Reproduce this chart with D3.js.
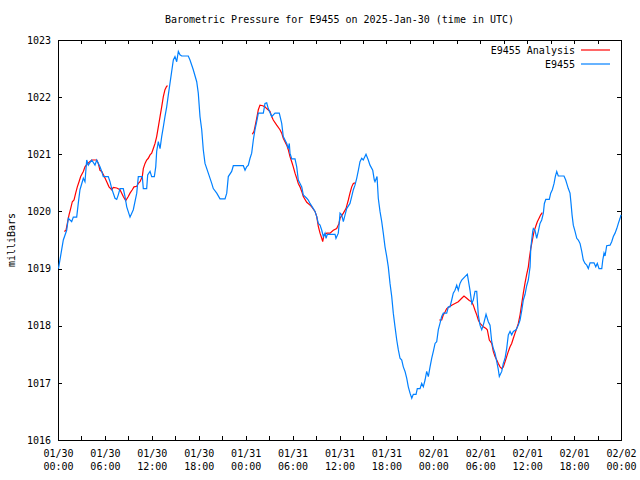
<!DOCTYPE html>
<html><head><meta charset="utf-8">
<script src="https://cdn.jsdelivr.net/npm/d3@7"></script>
<style>body{margin:0;background:#fff}svg{display:block}text{font-family:"DejaVu Sans Mono","Liberation Mono",monospace;font-size:10px;fill:#000}</style>
</head><body><svg id="c" width="640" height="480"></svg>
<script>
// hours since 2025-01-30 00:00 UTC
const obsHours = [0.06,0.47,0.68,1.11,1.32,1.75,1.96,2.39,2.60,2.81,3.24,3.45,3.67,3.88,4.31,4.73,4.95,5.37,5.59,5.79,6.43,6.65,6.87,7.29,7.51,7.71,7.93,8.35,8.57,8.79,9.21,9.63,10.07,10.27,10.78,10.91,11.34,11.47,11.77,11.98,12.32,12.50,12.62,12.83,13.05,13.26,13.47,13.68,13.90,14.11,14.32,14.54,14.75,14.96,15.18,15.39,15.60,15.82,16.66,16.88,17.30,17.74,17.94,18.16,18.38,18.58,18.80,19.22,19.66,19.86,20.30,20.72,21.36,21.58,21.78,22.21,22.42,23.70,23.92,24.13,24.34,24.56,24.77,24.98,25.19,25.41,25.62,26.26,26.47,26.69,26.89,27.33,27.75,28.30,28.61,28.81,29.03,29.25,29.45,29.58,29.67,29.89,30.31,30.53,30.73,30.95,31.17,31.37,31.81,32.01,32.23,32.65,32.87,33.09,33.29,33.51,33.73,33.93,34.15,34.28,34.44,35.43,35.55,35.85,35.98,36.07,36.28,36.49,36.71,36.92,37.34,37.56,37.77,37.98,38.20,38.41,38.62,38.84,39.04,39.39,39.68,39.90,40.25,40.45,40.54,40.80,40.96,41.18,41.40,41.60,41.82,42.04,42.24,42.46,42.68,42.88,43.10,43.32,43.52,43.74,43.96,44.16,44.38,44.60,44.80,45.02,45.24,45.44,45.79,45.95,46.30,46.51,46.72,46.94,47.15,47.36,47.58,47.79,48.00,48.22,48.43,48.64,48.85,49.07,49.28,49.71,49.92,50.13,50.35,50.55,50.77,50.99,51.19,51.41,51.63,52.05,52.35,52.47,52.69,52.91,53.11,53.33,53.55,53.75,53.97,54.19,54.39,54.61,54.74,55.03,55.25,55.47,55.67,55.89,56.11,56.31,56.44,56.75,56.95,57.17,57.38,57.59,57.81,58.02,58.23,58.58,58.87,59.09,59.31,59.51,59.73,59.94,60.15,60.37,60.46,60.58,60.71,60.79,61.00,61.22,61.43,61.64,61.86,62.07,62.20,62.38,62.83,63.01,63.22,63.44,63.60,63.78,63.98,64.71,64.93,65.06,65.26,65.48,65.61,65.74,65.90,66.12,66.34,66.54,66.76,66.98,67.18,67.40,67.62,67.82,68.04,68.55,68.77,68.97,69.19,69.54,69.67,69.83,69.96,70.17,70.60,70.81,71.02,71.24,71.46,71.66,71.88,72.0];
const obsPressure = [1019.0,1019.33,1019.5,1019.67,1019.88,1019.82,1019.9,1019.9,1020.15,1020.38,1020.58,1020.52,1020.9,1020.81,1020.9,1020.81,1020.9,1020.78,1020.7,1020.61,1020.61,1020.52,1020.4,1020.23,1020.21,1020.29,1020.4,1020.4,1020.26,1020.08,1019.9,1020.03,1020.32,1020.61,1020.61,1020.4,1020.4,1020.64,1020.7,1020.61,1020.61,1020.78,1021.05,1021.22,1021.1,1021.31,1021.48,1021.66,1021.83,1022.04,1022.24,1022.45,1022.65,1022.71,1022.62,1022.8,1022.74,1022.72,1022.72,1022.65,1022.48,1022.27,1022.07,1021.66,1021.43,1021.08,1020.84,1020.67,1020.49,1020.4,1020.32,1020.22,1020.22,1020.32,1020.61,1020.7,1020.8,1020.8,1020.72,1020.78,1020.81,1020.93,1021.02,1021.25,1021.43,1021.57,1021.72,1021.72,1021.89,1021.9,1021.8,1021.66,1021.72,1021.72,1021.54,1021.31,1021.25,1021.19,1021.1,1021.19,1021.02,1020.92,1020.92,1020.78,1020.55,1020.49,1020.43,1020.29,1020.23,1020.2,1020.14,1020.05,1020.0,1019.91,1019.79,1019.76,1019.67,1019.56,1019.62,1019.53,1019.6,1019.6,1019.53,1019.62,1019.82,1019.97,1019.94,1019.82,1019.94,1020.05,1020.14,1020.26,1020.38,1020.46,1020.58,1020.72,1020.87,1020.93,1020.9,1021.0,1020.9,1020.81,1020.72,1020.55,1020.52,1020.61,1020.23,1020.0,1019.82,1019.62,1019.38,1019.21,1019.03,1018.74,1018.51,1018.22,1017.98,1017.75,1017.58,1017.43,1017.4,1017.28,1017.2,1017.08,1016.93,1016.82,1016.73,1016.8,1016.8,1016.9,1016.9,1016.99,1016.93,1017.05,1017.2,1017.11,1017.28,1017.43,1017.55,1017.69,1017.72,1017.93,1018.04,1018.16,1018.22,1018.22,1018.33,1018.33,1018.45,1018.57,1018.62,1018.71,1018.62,1018.74,1018.8,1018.86,1018.9,1018.8,1018.62,1018.39,1018.45,1018.6,1018.6,1018.19,1018.01,1017.93,1018.01,1018.13,1018.2,1018.07,1018.01,1017.72,1017.6,1017.52,1017.37,1017.23,1017.11,1017.2,1017.34,1017.43,1017.6,1017.84,1017.9,1017.84,1017.9,1017.93,1018.01,1018.1,1018.27,1018.45,1018.55,1018.7,1018.8,1019.03,1019.35,1019.5,1019.65,1019.7,1019.67,1019.53,1019.65,1019.79,1019.85,1019.97,1020.14,1020.21,1020.21,1020.32,1020.38,1020.49,1020.61,1020.7,1020.62,1020.62,1020.55,1020.49,1020.4,1020.32,1020.14,1019.94,1019.76,1019.65,1019.53,1019.5,1019.44,1019.3,1019.15,1019.09,1019.06,1019.0,1019.1,1019.1,1019.03,1019.09,1019.0,1019.0,1019.15,1019.27,1019.22,1019.4,1019.41,1019.47,1019.56,1019.62,1019.7,1019.79,1019.88,1019.94];
// analysis: null breaks the line between runs
const anaHours = [0.81,1.02,1.24,1.41,1.62,1.83,2.05,2.26,2.47,2.69,2.90,3.24,3.45,3.67,3.88,4.31,4.95,5.15,5.37,5.59,5.92,6.23,6.52,6.87,7.07,7.51,7.93,8.15,8.35,8.66,8.99,9.21,9.50,9.72,10.07,10.27,10.49,10.78,10.91,11.13,11.34,11.55,11.77,11.98,12.19,12.41,12.62,12.83,13.05,13.26,13.47,13.68,13.90,14.03,
 null,
 24.85,25.07,25.19,25.41,25.62,25.83,26.18,26.47,26.69,27.11,27.33,27.53,27.97,28.39,28.61,28.81,29.25,29.45,29.67,29.89,30.09,30.31,30.53,30.73,30.95,31.17,31.37,31.81,32.23,32.45,32.87,33.09,33.29,33.51,33.73,33.85,34.02,34.37,34.79,35.21,35.64,35.94,36.07,36.49,36.83,37.13,37.34,37.56,37.77,37.98,
 null,
 48.76,49.07,49.28,49.49,49.71,50.04,50.35,50.77,51.19,51.63,51.92,52.27,52.60,52.91,53.11,53.33,53.55,53.75,53.97,54.19,54.39,54.74,54.90,55.16,55.47,55.67,55.89,56.11,56.31,56.53,56.75,56.95,57.17,57.38,57.59,57.81,58.02,58.23,58.45,58.66,58.87,59.09,59.31,59.51,59.73,59.94,60.15,60.28,60.46,60.67,60.88,61.10,61.30,61.52,61.73,61.94];
const anaPressure = [1019.65,1019.67,1019.82,1019.94,1020.05,1020.17,1020.2,1020.32,1020.43,1020.52,1020.61,1020.7,1020.78,1020.82,1020.85,1020.9,1020.9,1020.84,1020.72,1020.7,1020.61,1020.52,1020.43,1020.38,1020.42,1020.41,1020.38,1020.32,1020.26,1020.19,1020.26,1020.32,1020.38,1020.43,1020.44,1020.49,1020.52,1020.61,1020.75,1020.84,1020.9,1020.93,1020.99,1021.02,1021.1,1021.19,1021.31,1021.48,1021.66,1021.83,1022.01,1022.13,1022.19,1022.2,
 null,
 1021.35,1021.4,1021.48,1021.63,1021.78,1021.86,1021.85,1021.83,1021.8,1021.75,1021.66,1021.6,1021.51,1021.43,1021.37,1021.28,1021.16,1021.08,1020.96,1020.87,1020.78,1020.67,1020.58,1020.49,1020.43,1020.35,1020.26,1020.16,1020.11,1020.08,1020.0,1019.91,1019.74,1019.62,1019.53,1019.47,1019.59,1019.62,1019.62,1019.67,1019.7,1019.79,1019.88,1019.97,1020.05,1020.2,1020.32,1020.43,1020.49,1020.5,
 null,
 1018.1,1018.1,1018.19,1018.24,1018.3,1018.33,1018.36,1018.39,1018.42,1018.48,1018.52,1018.48,1018.44,1018.42,1018.36,1018.27,1018.19,1018.1,1018.04,1018.01,1017.98,1017.95,1017.93,1017.75,1017.69,1017.55,1017.46,1017.4,1017.34,1017.28,1017.25,1017.28,1017.37,1017.46,1017.55,1017.63,1017.69,1017.78,1017.87,1017.95,1018.04,1018.19,1018.39,1018.57,1018.75,1018.9,1019.03,1019.18,1019.35,1019.5,1019.65,1019.74,1019.82,1019.88,1019.94,1019.98];
const xTickHours = [0,6,12,18,24,30,36,42,48,54,60,66,72];
const xTickLabels = ["01/30\n00:00","01/30\n06:00","01/30\n12:00","01/30\n18:00","01/31\n00:00","01/31\n06:00","01/31\n12:00","01/31\n18:00","02/01\n00:00","02/01\n06:00","02/01\n12:00","02/01\n18:00","02/02\n00:00"];
const yTicks = [1016,1017,1018,1019,1020,1021,1022,1023];
const seriesNames = ["E9455 Analysis","E9455"];
const seriesColors = ["#ff0000","#0080ff"];
const titleText = "Barometric Pressure for E9455 on 2025-Jan-30 (time in UTC)";
const yLabelText = "milliBars";

const svg = d3.select("#c");
const L=58,R=621,T=40,B=440;
const x = d3.scaleLinear().domain([0,72]).range([L,R]);
const y = d3.scaleLinear().domain([1016,1023]).range([B,T]);

const minorHours = d3.range(0,73,3);
const fmt = h => { const i = xTickHours.indexOf(h); return i<0 ? "" : xTickLabels[i]; };

const gx = svg.append("g").attr("transform",`translate(0,${B})`)
  .call(d3.axisBottom(x).tickValues(minorHours).tickSize(-4).tickPadding(10).tickFormat(fmt));
gx.selectAll(".tick text").each(function(d){
  const t = d3.select(this); const parts = fmt(d).split("\n"); t.text(null);
  parts.forEach((p,i)=> t.append("tspan").attr("x",0).attr("dy", i===0 ? "0.71em" : "1.3em").text(p));
});
svg.append("g").attr("transform",`translate(0,${T})`)
  .call(d3.axisTop(x).tickValues(minorHours).tickSize(-4).tickFormat(""));
svg.append("g").attr("transform",`translate(${L},0)`)
  .call(d3.axisLeft(y).tickValues(yTicks).tickSize(-4).tickPadding(7).tickFormat(d3.format("d")));
svg.append("g").attr("transform",`translate(${R},0)`)
  .call(d3.axisRight(y).tickValues(yTicks).tickSize(-4).tickFormat(""));
svg.selectAll(".domain").remove();
svg.selectAll(".tick line").attr("stroke","#000").attr("shape-rendering","crispEdges");
svg.selectAll(".tick text").attr("font-family",null).attr("font-size",null).attr("fill","#000");

svg.append("rect").attr("x",L).attr("y",T).attr("width",R-L).attr("height",B-T)
  .attr("fill","none").attr("stroke","#000").attr("shape-rendering","crispEdges");

const ana = anaHours.map((h,i)=>({h, p: anaPressure[i]}));
const obs = obsHours.map((h,i)=>({h, p: obsPressure[i]}));
const line = d3.line().defined(d=>d.h!==null && d.p!==null).x(d=>x(d.h)).y(d=>y(d.p));
svg.append("path").datum(ana).attr("d",line).attr("fill","none").attr("stroke",seriesColors[0]).attr("stroke-width",1.2);
svg.append("path").datum(obs).attr("d",line).attr("fill","none").attr("stroke",seriesColors[1]).attr("stroke-width",1.2);

svg.append("text").attr("x",(L+R)/2).attr("y",23).attr("text-anchor","middle").text(titleText);
svg.append("text").attr("transform","translate(15,240) rotate(-90)").attr("text-anchor","middle").text(yLabelText);

seriesNames.forEach((n,i)=>{
  const yy = 50 + i*14;
  svg.append("text").attr("x",575).attr("y",yy+3.5).attr("text-anchor","end").text(n);
  svg.append("line").attr("x1",581).attr("x2",610).attr("y1",yy).attr("y2",yy).attr("stroke",seriesColors[i]).attr("stroke-width",1.2);
});
</script></body></html>
